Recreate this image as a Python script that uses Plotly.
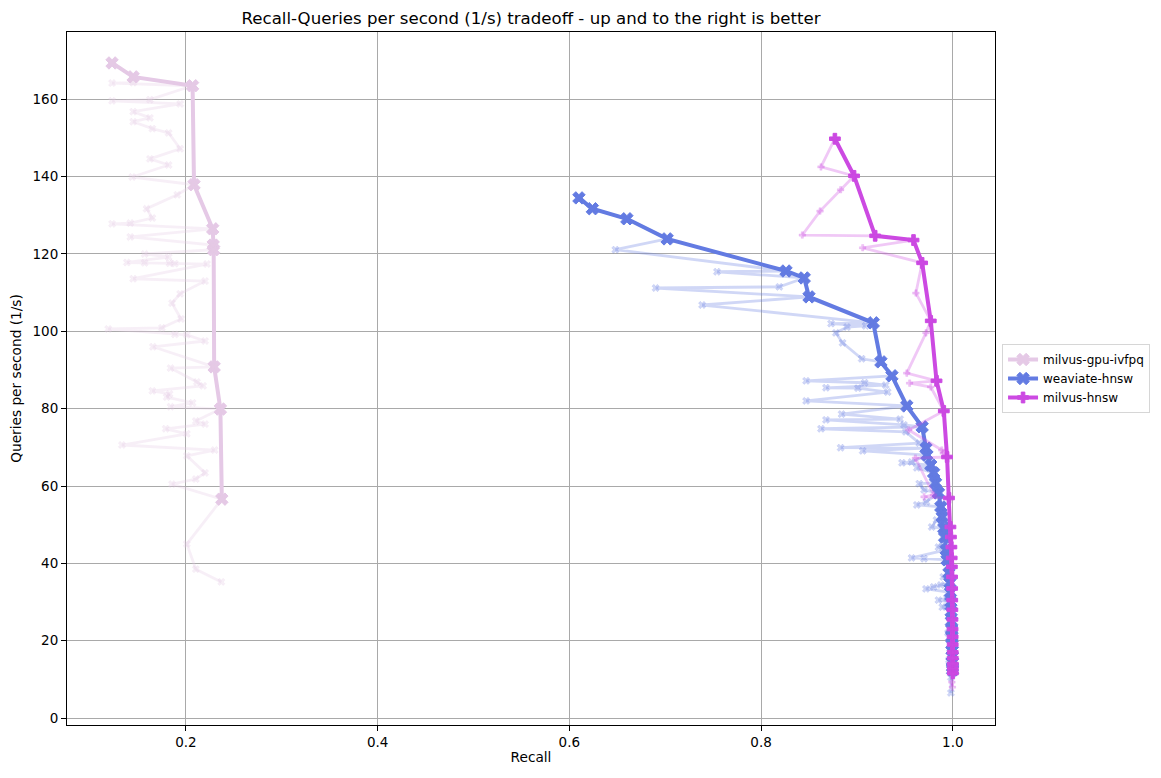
import plotly.graph_objects as go

# ---------------- data ----------------
series_names = ["milvus-gpu-ivfpq", "weaviate-hnsw", "milvus-hnsw"]

# milvus-gpu-ivfpq
ivfpq_front_x = [0.123, 0.145, 0.207, 0.2085, 0.228, 0.2285, 0.229, 0.2295, 0.236, 0.2375]
ivfpq_front_y = [169.4, 165.8, 163.5, 137.9, 126.5, 122.3, 121.1, 90.8, 79.9, 56.6]
ivfpq_other_x = [0.145, 0.123, 0.1625, 0.123, 0.194, 0.145, 0.1625, 0.145, 0.165, 0.182,
                 0.194, 0.1625, 0.182, 0.144, 0.191, 0.159, 0.165, 0.142, 0.123, 0.142,
                 0.157, 0.182, 0.1385, 0.157, 0.183, 0.1885, 0.222, 0.145, 0.22, 0.194,
                 0.1855, 0.195, 0.175, 0.119, 0.1885, 0.201, 0.22, 0.1656, 0.184, 0.2115,
                 0.218, 0.165, 0.183, 0.180, 0.207, 0.184, 0.2104, 0.22, 0.179, 0.201,
                 0.1333, 0.230, 0.201, 0.22, 0.2104, 0.1855, 0.201, 0.2104, 0.237]
ivfpq_other_y = [164.3, 164.2, 159.9, 159.6, 158.8, 156.8, 155.2, 154.2, 152.4, 151.3,
                 147.2, 144.6, 143.0, 139.9, 135.3, 131.7, 129.3, 128.0, 127.8, 124.4,
                 120.0, 119.2, 117.8, 117.7, 117.6, 117.5, 117.4, 113.6, 113.0, 109.7,
                 107.3, 103.2, 100.9, 100.6, 99.2, 99.1, 97.5, 96.0, 90.5, 86.9,
                 85.9, 84.6, 83.8, 83.0, 81.5, 80.5, 76.8, 76.0, 74.8, 73.5,
                 70.6, 69.3, 67.8, 63.4, 61.8, 60.5, 45.0, 38.5, 35.2]

# weaviate-hnsw
weav_front_x = [0.610, 0.624, 0.660, 0.702, 0.826, 0.845, 0.850, 0.917, 0.925, 0.9365,
                0.952, 0.968, 0.972, 0.973, 0.977, 0.980, 0.982, 0.985, 0.9875, 0.989,
                0.9906, 0.9915, 0.993, 0.994, 0.996, 0.997, 0.9975, 0.998, 0.9983, 0.9986,
                0.9988, 0.999, 0.9992, 0.9994, 0.9995, 0.9996, 0.9997, 0.9998]
weav_front_y = [134.5, 131.7, 129.1, 123.9, 115.6, 113.8, 108.9, 102.2, 92.1, 88.5,
                80.7, 75.3, 69.8, 68.0, 65.4, 63.4, 60.8, 58.2, 54.6, 52.0,
                49.1, 46.8, 43.5, 40.9, 37.5, 35.0, 32.5, 30.0, 27.5, 25.0,
                23.0, 21.0, 19.0, 17.5, 16.0, 14.5, 13.2, 12.4]
weav_other_x = [0.648, 0.754, 0.819, 0.690, 0.7385, 0.873, 0.909, 0.8896, 0.878, 0.885,
                0.905, 0.847, 0.908, 0.930, 0.8677, 0.901, 0.932, 0.847, 0.884, 0.945,
                0.8677, 0.949, 0.8625, 0.951, 0.965, 0.883, 0.906, 0.957, 0.947, 0.9625,
                0.965, 0.970, 0.9725, 0.9625, 0.983, 0.978, 0.985, 0.957, 0.970, 0.99,
                0.9875, 0.98, 0.972, 0.985, 0.994, 0.989, 0.996, 0.995, 0.997, 0.996,
                0.998, 0.998]
weav_other_y = [121.1, 115.4, 111.5, 111.2, 106.8, 102.0, 101.4, 101.1, 99.6, 97.0,
                92.9, 87.2, 86.7, 86.1, 85.4, 85.3, 84.3, 82.0, 78.6, 77.3,
                77.1, 75.8, 74.8, 74.0, 71.1, 69.9, 69.1, 66.2, 66.0, 64.7,
                60.6, 59.0, 55.9, 55.1, 51.2, 49.4, 44.2, 41.4, 41.2, 36.5,
                34.4, 33.9, 33.4, 30.5, 31.0, 28.7, 26.0, 22.0, 18.0, 15.0,
                10.5, 6.5]

# milvus-hnsw
mhnsw_front_x = [0.877, 0.897, 0.919, 0.959, 0.968, 0.977, 0.983, 0.9906, 0.994, 0.996,
                 0.9975, 0.998, 0.9985, 0.9988, 0.999, 0.9992, 0.9993, 0.9994, 0.9995, 0.9996,
                 0.9997, 0.9998, 0.99985, 0.9999, 0.99993, 0.99996, 0.99998, 1.0]
mhnsw_front_y = [149.8, 140.2, 124.7, 123.6, 117.7, 102.7, 87.2, 79.4, 67.5, 56.9,
                 49.4, 46.8, 44.2, 41.4, 39.1, 36.5, 33.5, 30.5, 28.0, 25.5,
                 23.0, 21.0, 19.0, 17.0, 15.5, 14.0, 12.8, 11.6]
mhnsw_other_x = [0.8625, 0.883, 0.8615, 0.843, 0.906, 0.9615, 0.972, 0.952, 0.955, 0.977,
                 0.954, 0.99, 0.9885, 0.961, 0.980, 0.970, 0.999, 0.9995]
mhnsw_other_y = [142.5, 136.6, 131.1, 124.9, 121.6, 109.9, 99.6, 89.2, 86.6, 85.6,
                 74.5, 68.5, 69.3, 67.2, 57.7, 57.2, 9.3, 8.0]

x_ticks = [0.2, 0.4, 0.6, 0.8, 1.0]
x_tick_labels = ["0.2", "0.4", "0.6", "0.8", "1.0"]
y_ticks = [0, 20, 40, 60, 80, 100, 120, 140, 160]
y_tick_labels = ["0", "20", "40", "60", "80", "100", "120", "140", "160"]

# ---------------- styles ----------------
colors = {
    "milvus-gpu-ivfpq": (229, 201, 230),
    "weaviate-hnsw": (99, 123, 226),
    "milvus-hnsw": (204, 74, 226),
}
symbols = {
    "milvus-gpu-ivfpq": "x",
    "weaviate-hnsw": "x",
    "milvus-hnsw": "cross",
}
bold_sizes = {"milvus-gpu-ivfpq": 11, "weaviate-hnsw": 11, "milvus-hnsw": 9}
faint_sizes = {"milvus-gpu-ivfpq": 6.5, "weaviate-hnsw": 6.5, "milvus-hnsw": 5.5}

data = {
    "milvus-gpu-ivfpq": (ivfpq_front_x, ivfpq_front_y, ivfpq_other_x, ivfpq_other_y),
    "weaviate-hnsw": (weav_front_x, weav_front_y, weav_other_x, weav_other_y),
    "milvus-hnsw": (mhnsw_front_x, mhnsw_front_y, mhnsw_other_x, mhnsw_other_y),
}

fig = go.Figure()
for name in series_names:
    fx, fy, ox, oy = data[name]
    r, g, b = colors[name]
    solid = f"rgb({r},{g},{b})"
    faded = f"rgba({r},{g},{b},0.3)"
    # all points sorted by qps descending (raw line)
    pts = sorted(zip(fx + ox, fy + oy), key=lambda t: (-t[1], -t[0]))
    ax = [p[0] for p in pts]
    ay = [p[1] for p in pts]
    fig.add_trace(go.Scatter(
        x=fx, y=fy, mode="lines+markers", name=name,
        line=dict(color=solid, width=4),
        marker=dict(symbol=symbols[name], size=bold_sizes[name], color=solid,
                    line=dict(color=solid, width=1)),
        showlegend=True,
    ))
    fig.add_trace(go.Scatter(
        x=ax, y=ay, mode="lines+markers", name=name,
        line=dict(color=faded, width=2.8),
        marker=dict(symbol=symbols[name], size=faint_sizes[name], color=faded,
                    line=dict(color=faded, width=0.5)),
        showlegend=False, hoverinfo="skip",
    ))

axis_common = dict(
    showline=True, linecolor="black", linewidth=1, mirror=True,
    ticks="outside", ticklen=5, tickcolor="black", tickwidth=1,
    showgrid=True, gridcolor="#a9a9a9", gridwidth=1, zeroline=False,
    automargin=False,
    tickfont=dict(family="DejaVu Sans", size=13.5, color="black"),
)

# the page body adds an 8px offset; the figure is sized to compensate
W, H = 1153, 770
fig.update_layout(
    width=W, height=H,
    margin=dict(l=59, r=165, t=24, b=53),
    paper_bgcolor="white", plot_bgcolor="white",
    font=dict(family="DejaVu Sans", color="black"),
    title=dict(
        text="Recall-Queries per second (1/s) tradeoff - up and to the right is better",
        x=0.5, xref="paper", y=1 - 10 / H, yref="container",
        xanchor="center", yanchor="middle",
        font=dict(family="DejaVu Sans", size=16.6, color="black"),
    ),
    xaxis=dict(
        range=[0.076, 1.044], tickvals=x_ticks, ticktext=x_tick_labels,
        title=dict(text="Recall", standoff=3,
                   font=dict(family="DejaVu Sans", size=13.7, color="black")),
        **axis_common,
    ),
    yaxis=dict(
        range=[-1.8, 177.4], tickvals=y_ticks, ticktext=y_tick_labels,
        title=dict(text="Queries per second (1/s)", standoff=8,
                   font=dict(family="DejaVu Sans", size=13.7, color="black")),
        **axis_common,
    ),
    legend=dict(
        x=1.0065, y=0.5, xanchor="left", yanchor="middle",
        bordercolor="#d6d6d6", borderwidth=1, bgcolor="white",
        font=dict(family="DejaVu Sans", size=12, color="black"),
        itemwidth=30, tracegroupgap=0,
    ),
)

fig.write_html("out.html")
